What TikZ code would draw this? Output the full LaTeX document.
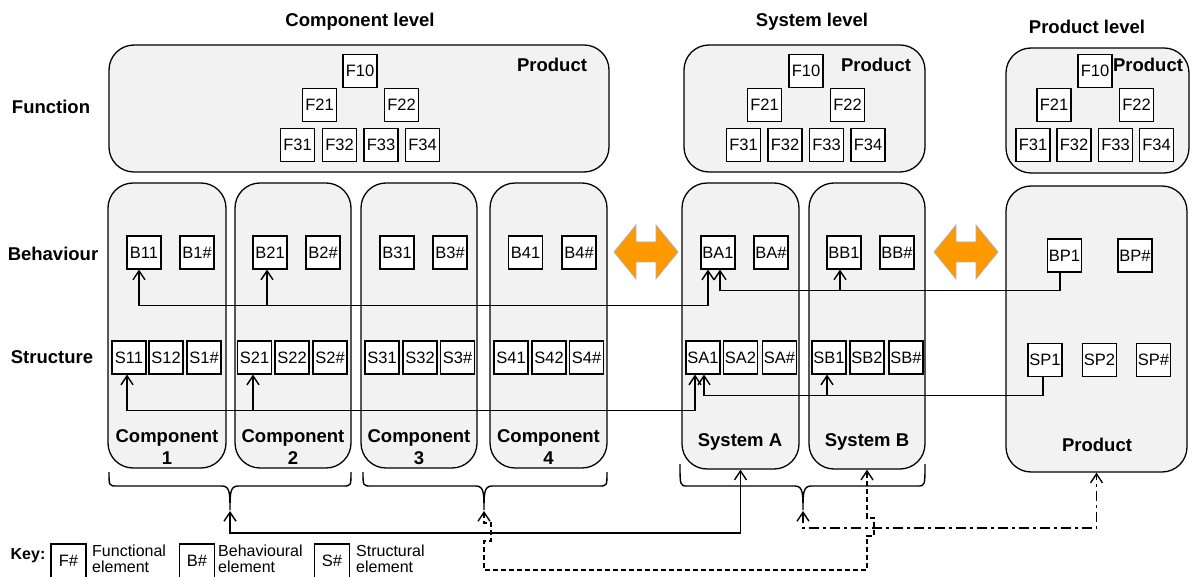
\documentclass[tikz,border=0pt]{standalone}
\usepackage{fontspec}
\setmainfont{Liberation Sans}
\usetikzlibrary{arrows.meta}
\definecolor{boxgray}{RGB}{242,242,242}
\definecolor{orng}{RGB}{255,153,0}
\begin{document}
\begin{tikzpicture}[x=1pt,y=-1pt,
  bigbox/.style={draw, fill=boxgray, line width=1.3pt, rounded corners=25pt, inner sep=0},
  elem/.style={draw, fill=white, line width=1.2pt, minimum width=34pt, minimum height=33pt, inner sep=0, font=\fontsize{16.5}{16.5}\selectfont},
  keybox/.style={elem, minimum width=35pt, minimum height=34pt},
  hd/.style={font=\fontsize{18.5}{22}\selectfont\bfseries, inner sep=0, align=center},
  keytxt/.style={font=\fontsize{16}{16}\selectfont, inner sep=0, align=left, anchor=west},
  con/.style={line width=1.4pt},
  barb/.tip={Straight Barb[length=9pt,width=12pt]},
  orarrow/.style={fill=orng, draw=black!30, line width=0.8pt},
  dashdot/.style={dash pattern=on 10pt off 4pt on 3pt off 4pt},
  dsh/.style={dash pattern=on 5pt off 3pt}
]
\useasboundingbox (0,0) rectangle (1192,577);
\fill[white] (0,0) rectangle (1192,577);

% headings
\node[hd] (hcl) at (360,22) {Component level};
\node[hd] (hsl) at (812,22) {System level};
\node[hd] (hpl) at (1087,27) {Product level};
\node[hd] (hfun) at (51,107) {Function};
\node[hd] (hbeh) at (53,254) {Behaviour};
\node[hd] (hstr) at (52,357) {Structure};

% function boxes
\node[bigbox, minimum width=500pt, minimum height=127pt] (FC) at (359,108.5) {};
\node[bigbox, minimum width=241pt, minimum height=127pt] (FS) at (804.5,108.5) {};
\node[bigbox, minimum width=183pt, minimum height=125pt] (FP) at (1097.5,110.5) {};
\node[hd] (pc) at (552,65) {Product};
\node[hd] (ps) at (876,65) {Product};
\node[hd] (pp) at (1148,65) {Product};

% columns
\node[bigbox, minimum width=118pt, minimum height=285pt] (C1) at (167,325.5) {};
\node[bigbox, minimum width=116pt, minimum height=285pt] (C2) at (293,325.5) {};
\node[bigbox, minimum width=116pt, minimum height=285pt] (C3) at (419,325.5) {};
\node[bigbox, minimum width=117pt, minimum height=285pt] (C4) at (548.5,325.5) {};
\node[bigbox, minimum width=117pt, minimum height=286pt] (SA) at (740.5,326) {};
\node[bigbox, minimum width=116pt, minimum height=286pt] (SB) at (867,326) {};
\node[bigbox, minimum width=181pt, minimum height=286pt] (P) at (1096.5,329) {};

\node[hd] (lc1) at (167,447) {Component\\1};
\node[hd] (lc2) at (293,447) {Component\\2};
\node[hd] (lc3) at (419,447) {Component\\3};
\node[hd] (lc4) at (548.5,447) {Component\\4};
\node[hd] (lsa) at (740,442) {System A};
\node[hd] (lsb) at (867,442) {System B};
\node[hd] (lp) at (1097,445) {Product};

% function elements
\node[elem] (cF10) at (360,71) {F10};
\node[elem] (cF21) at (319.5,105) {F21};
\node[elem] (cF22) at (401.5,105) {F22};
\node[elem] (cF31) at (297.5,145) {F31};
\node[elem] (cF32) at (339.5,145) {F32};
\node[elem] (cF33) at (381,145) {F33};
\node[elem] (cF34) at (422.5,145) {F34};

\node[elem] (sF10) at (806,71) {F10};
\node[elem] (sF21) at (764.5,105) {F21};
\node[elem] (sF22) at (847.5,105) {F22};
\node[elem] (sF31) at (743.5,145) {F31};
\node[elem] (sF32) at (785,145) {F32};
\node[elem] (sF33) at (826.5,145) {F33};
\node[elem] (sF34) at (868,145) {F34};

\node[elem] (pF10) at (1095,71) {F10};
\node[elem] (pF21) at (1054,105) {F21};
\node[elem] (pF22) at (1136.5,105) {F22};
\node[elem] (pF31) at (1033,145) {F31};
\node[elem] (pF32) at (1074,145) {F32};
\node[elem] (pF33) at (1115.5,145) {F33};
\node[elem] (pF34) at (1156.5,145) {F34};

% behaviour elements
\node[elem] (B11) at (144,252.5) {B11};
\node[elem] (B1x) at (197,252.5) {B1\#};
\node[elem] (B21) at (270,252.5) {B21};
\node[elem] (B2x) at (323,252.5) {B2\#};
\node[elem] (B31) at (397,252.5) {B31};
\node[elem] (B3x) at (450,252.5) {B3\#};
\node[elem] (B41) at (525.5,252.5) {B41};
\node[elem] (B4x) at (579,252.5) {B4\#};
\node[elem] (BA1) at (718,252.5) {BA1};
\node[elem] (BAx) at (771,252.5) {BA\#};
\node[elem] (BB1) at (844,252.5) {BB1};
\node[elem] (BBx) at (897,252.5) {BB\#};
\node[elem] (BP1) at (1064.5,255.5) {BP1};
\node[elem] (BPx) at (1135,255.5) {BP\#};

% structure elements
\node[elem] (S11) at (129,357.5) {S11};
\node[elem] (S12) at (166,357.5) {S12};
\node[elem] (S1x) at (204,357.5) {S1\#};
\node[elem] (S21) at (254.5,357.5) {S21};
\node[elem] (S22) at (292,357.5) {S22};
\node[elem] (S2x) at (330,357.5) {S2\#};
\node[elem] (S31) at (382,357.5) {S31};
\node[elem] (S32) at (420,357.5) {S32};
\node[elem] (S3x) at (457.5,357.5) {S3\#};
\node[elem] (S41) at (511,357.5) {S41};
\node[elem] (S42) at (549,357.5) {S42};
\node[elem] (S4x) at (586.5,357.5) {S4\#};
\node[elem] (SA1) at (703,357.5) {SA1};
\node[elem] (SA2) at (740.5,357.5) {SA2};
\node[elem] (SAx) at (779.5,357.5) {SA\#};
\node[elem] (SB1) at (829,357.5) {SB1};
\node[elem] (SB2) at (867,357.5) {SB2};
\node[elem] (SBx) at (906,357.5) {SB\#};
\node[elem] (SP1) at (1045,360) {SP1};
\node[elem] (SP2) at (1099.5,360) {SP2};
\node[elem] (SPx) at (1153.5,360) {SP\#};

% orange double arrows
\filldraw[orarrow] (614,252) -- (636,225) -- (636,242) -- (656,242) -- (656,225) -- (678,252)
  -- (656,279) -- (656,262) -- (636,262) -- (636,279) -- cycle;
\filldraw[orarrow] (934,252) -- (956,225) -- (956,242) -- (976,242) -- (976,225) -- (998,252)
  -- (976,279) -- (976,262) -- (956,262) -- (956,279) -- cycle;

% anchor points for connectors
\coordinate (aB11) at ([xshift=-5pt]B11.south);
\coordinate (aB21) at ([xshift=-3pt]B21.south);
\coordinate (aBA1l) at ([xshift=-10pt]BA1.south);
\coordinate (aBA1r) at ([xshift=2pt]BA1.south);
\coordinate (aBB1) at ([xshift=-4pt]BB1.south);
\coordinate (aBP1) at ([xshift=-4.5pt]BP1.south);
\coordinate (aS11) at ([xshift=-2pt]S11.south);
\coordinate (aS21) at ([xshift=-1.5pt]S21.south);
\coordinate (aSA1l) at ([xshift=-8pt]SA1.south);
\coordinate (aSA1r) at ([xshift=1pt]SA1.south);
\coordinate (aSB1) at ([xshift=-2pt]SB1.south);
\coordinate (aSP1) at ([xshift=-2pt]SP1.south);

% behaviour connectors
\draw[con, barb-barb] (aB11) -- ++(0,36) coordinate (bj1) -| (aBA1l);
\draw[con, -barb] (bj1 -| aB21) -- (aB21);
\draw[con, -barb] (aBP1) -- ++(0,18) coordinate (bj2) -| (aBA1r);
\draw[con, -barb] (bj2 -| aBB1) -- (aBB1);

% structure connectors
\draw[con, barb-barb] (aS11) -- ++(0,36) coordinate (sj1) -| (aSA1l);
\draw[con, -barb] (sj1 -| aS21) -- (aS21);
\draw[con, -barb] (aSP1) -- ++(0,18.5) coordinate (sj2) -| (aSA1r);
\draw[con, -barb] (sj2 -| aSB1) -- (aSB1);

% braces
\draw[con] (109,472) .. controls (109,486) .. (117,486) -- (222,486)
  .. controls (230,486) and (230,494) .. (230,510)
  .. controls (230,494) and (230,486) .. (238,486) -- (343,486)
  .. controls (351,486) .. (351,472);
\draw[con] (363,472) .. controls (363,486) .. (371,486) -- (476,486)
  .. controls (484,486) and (484,494) .. (484,510)
  .. controls (484,494) and (484,486) .. (492,486) -- (599,486)
  .. controls (607,486) .. (607,472);
\draw[con] (680,464) .. controls (680,486) .. (688,486) -- (795,486)
  .. controls (803,486) and (803,494) .. (803,510)
  .. controls (803,494) and (803,486) .. (811,486) -- (917,486)
  .. controls (925,486) .. (925,464);
\coordinate (bt1) at (230,511);
\coordinate (bt2) at (484,511);
\coordinate (bt3) at (803,511);

% bottom connectors
\draw[con, barb-barb] (bt1) -- ++(0,22) -| (SA.south);
\draw[con, dsh, barb-barb] (bt2) -- (484,523) -- (491,523) -- (491,541) -- (484,541) -- (484,570)
  -- (867,570) -- (867,536) -- (874,536) -- (874,518) -- (867,518) -- (SB.south);
\draw[con, dashdot, barb-barb] (bt3) -- ++(0,17) -| (P.south);

% key
\node[font=\fontsize{16}{16}\selectfont\bfseries, inner sep=0] (key) at (28,556) {Key:};
\node[keybox] (kF) at (68.5,561) {F\#};
\node[keytxt] (kFt) at (92,559) {Functional\\element};
\node[keybox] (kB) at (197,561) {B\#};
\node[keytxt] (kBt) at (218,559) {Behavioural\\element};
\node[keybox] (kS) at (332,561) {S\#};
\node[keytxt] (kSt) at (356,559) {Structural\\element};
\end{tikzpicture}
\end{document}
